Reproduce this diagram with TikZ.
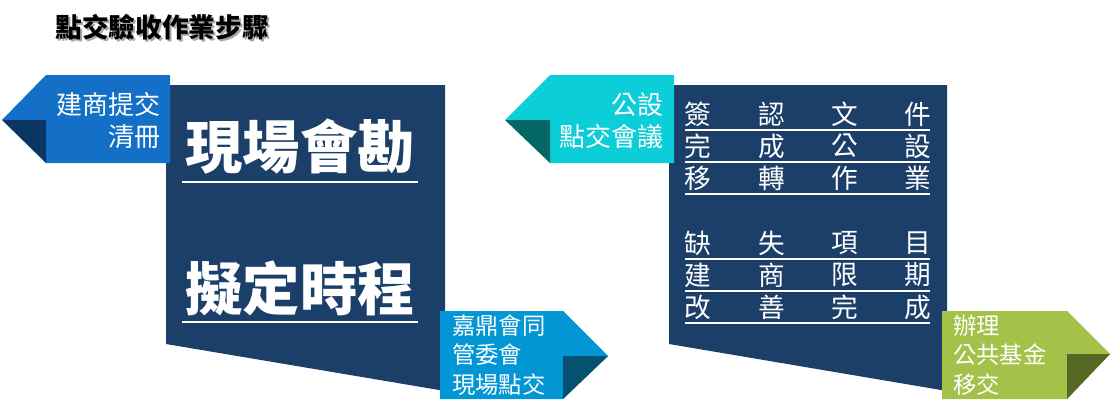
\documentclass[tikz,border=0pt]{standalone}
\usepackage{fontspec}
\setmainfont{Noto Sans CJK TC}
\usepackage{xcolor}
\usetikzlibrary{positioning}
\definecolor{clrNavy}{RGB}{28,63,106}
\definecolor{clrBlue}{RGB}{19,112,198}
\definecolor{clrBlueD}{RGB}{11,53,98}
\definecolor{clrCyan}{RGB}{12,206,216}
\definecolor{clrCyanD}{RGB}{5,102,102}
\definecolor{clrSky}{RGB}{2,150,212}
\definecolor{clrSkyD}{RGB}{6,80,112}
\definecolor{clrGreen}{RGB}{164,194,74}
\definecolor{clrGreenD}{RGB}{85,104,36}
\tikzset{
  panel/.style={fill=clrNavy},
  tagtext/.style={text=white,inner sep=0pt,
    font=\fontsize{19.5}{24}\selectfont},
  tagtextS/.style={text=white,inner sep=0pt,align=left,anchor=west,
    font=\fontsize{17.5}{22}\selectfont},
  bigtext/.style={text=white,inner sep=0pt,
    font=\fontsize{43}{50}\selectfont\bfseries},
  cell/.style={text=white,inner sep=0pt,
    font=\fontsize{20}{24}\selectfont},
  bigrule/.style={white,line width=2pt},
  cellrule/.style={white,line width=1.5pt},
  title/.style={inner sep=0pt,font=\fontsize{20}{24}\selectfont\bfseries}
}

\begin{document}
\begin{tikzpicture}[x=0.75pt,y=-0.75pt]
  \useasboundingbox (0,0) rectangle (1112,410);

  % title
  \node[title,text=black!35] (titleshadow) at (164,29) {點交驗收作業步驟};
  \node[title] (title) at (162,27) {點交驗收作業步驟};

  % left panel
  \fill[panel] (166,85) -- (445,85) -- (445,391) -- (166,344) -- cycle;
  \node[bigtext] (survey) at (300,147) {現場會勘};
  \draw[bigrule] (182,182) -- (418,182);
  \node[bigtext] (schedule) at (300,288) {擬定時程};
  \draw[bigrule] (182,322) -- (418,322);

  % tag: 建商提交清冊
  \fill[clrBlue] (2,120) -- (46,75) -- (170,75) -- (170,163)
    -- (46,163) -- (46,120) -- cycle;
  \fill[clrBlueD] (2,120) -- (46,120) -- (46,163) -- cycle;
  \node[tagtext,align=right,anchor=east] (submit) at (161,121)
    {建商提交\\清冊};

  % tag: 嘉鼎會同管委會現場點交
  \fill[clrSky] (440,311) -- (563,311) -- (608,356) -- (563,399)
    -- (440,399) -- cycle;
  \fill[clrSkyD] (563,356) -- (608,356) -- (563,399) -- cycle;
  \node[tagtextS] (onsite) at (452,355)
    {嘉鼎會同\\管委會\\現場點交};

  % right panel
  \fill[panel] (669,85) -- (947,85) -- (947,391) -- (669,344) -- cycle;
  \foreach \row/\y/\a/\b/\c/\d in {
      1/114/簽/認/文/件, 2/146/完/成/公/設, 3/178/移/轉/作/業,
      4/243/缺/失/項/目, 5/275/建/商/限/期, 6/307/改/善/完/成}{
    \node[cell] (c\row a) at (698,\y) {\a};
    \node[cell] (c\row b) at (772,\y) {\b};
    \node[cell] (c\row c) at (845,\y) {\c};
    \node[cell] (c\row d) at (918,\y) {\d};
    \draw[cellrule] (685,\y+15.5) -- (930,\y+15.5);
  }

  % tag: 公設點交會議
  \fill[clrCyan] (505,120) -- (550,75) -- (674,75) -- (674,163)
    -- (550,163) -- (550,120) -- cycle;
  \fill[clrCyanD] (505,120) -- (550,120) -- (550,163) -- cycle;
  \node[tagtext,align=right,anchor=east] (meeting) at (664,121)
    {公設\\點交會議};

  % tag: 辦理公共基金移交
  \fill[clrGreen] (942,311) -- (1067,311) -- (1110,354) -- (1067,399)
    -- (942,399) -- cycle;
  \fill[clrGreenD] (1067,354) -- (1110,354) -- (1067,399) -- cycle;
  \node[tagtextS] (fund) at (953,355)
    {辦理\\公共基金\\移交};
\end{tikzpicture}
\end{document}
